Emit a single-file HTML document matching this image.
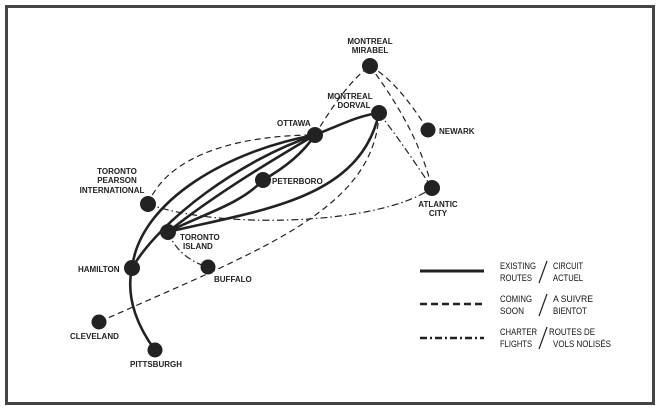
<!DOCTYPE html>
<html><head><meta charset="utf-8"><style>
html,body{margin:0;padding:0;background:#fff;}
svg{display:block}
text{font-family:"Liberation Sans",sans-serif;font-weight:bold;font-size:8px;fill:#222;}
.l{font-size:9.5px;font-weight:normal;fill:#111;}
</style></head><body>
<svg width="660" height="410" viewBox="0 0 660 410" xmlns="http://www.w3.org/2000/svg">
<rect x="0" y="0" width="660" height="410" fill="#fff"/>
<rect x="6.5" y="6.5" width="647" height="397" fill="none" stroke="#444" stroke-width="3"/>
<g fill="none" stroke="#222">
<g stroke-width="2.6">
<path d="M132,268 C140,200 230,150 315,135"/>
<path d="M132,268 C160,220 240,160 315,135"/>
<path d="M168,232 C220,190 290,150 315,135"/>
<path d="M168,232 C200,215 240,205 263,180"/>
<path d="M263,180 C290,165 305,150 315,135"/>
<path d="M315,135 C340,125 360,115 379,113"/>
<path d="M168,232 C260,210 360,200 379,113"/>
<path d="M132,268 C125,300 140,330 155,350"/>
</g>
<g stroke-width="1.2" stroke-dasharray="6,4">
<path d="M148,204 C170,150 250,135 315,135"/>
<path d="M315,135 C330,110 350,80 370,66"/>
<path d="M370,66 C395,80 415,110 428,130"/>
<path d="M370,66 C395,100 420,140 432,188"/>
<path d="M379,113 C375,210 260,250 99,322"/>
</g>
<g stroke-width="1.2" stroke-dasharray="7,3,1.5,3">
<path d="M148,204 C220,230 380,225 432,188"/>
<path d="M379,113 C400,140 420,170 432,188"/>
<path d="M168,232 C175,250 190,262 208,267"/>
</g>
</g>
<g fill="#222">
<circle cx="370" cy="66" r="8"/>
<circle cx="379" cy="113" r="8"/>
<circle cx="315" cy="135" r="8"/>
<circle cx="428" cy="130" r="7.5"/>
<circle cx="432" cy="188" r="8"/>
<circle cx="263" cy="180" r="8"/>
<circle cx="148" cy="204" r="8"/>
<circle cx="168" cy="232" r="8"/>
<circle cx="132" cy="268" r="8"/>
<circle cx="208" cy="267" r="7.5"/>
<circle cx="99" cy="322" r="7.5"/>
<circle cx="155" cy="350" r="7.5"/>
</g>
<text x="370" y="44" text-anchor="middle">MONTREAL</text>
<text x="370" y="53" text-anchor="middle">MIRABEL</text>
<text x="350" y="99" text-anchor="middle">MONTREAL</text>
<text x="354" y="108" text-anchor="middle">DORVAL</text>
<text x="277" y="126">OTTAWA</text>
<text x="439" y="134">NEWARK</text>
<text x="438" y="207" text-anchor="middle">ATLANTIC</text>
<text x="438" y="216" text-anchor="middle">CITY</text>
<text x="272" y="184">PETERBORO</text>
<text x="117" y="174" text-anchor="middle">TORONTO</text>
<text x="117" y="183" text-anchor="middle">PEARSON</text>
<text x="112" y="193" text-anchor="middle">INTERNATIONAL</text>
<text x="180" y="240">TORONTO</text>
<text x="183" y="249">ISLAND</text>
<text x="78" y="272">HAMILTON</text>
<text x="214" y="282">BUFFALO</text>
<text x="70" y="339">CLEVELAND</text>
<text x="130" y="367">PITTSBURGH</text>
<line x1="420" y1="271" x2="484" y2="271" stroke="#222" stroke-width="3"/>
<line x1="420" y1="304" x2="484" y2="304" stroke="#222" stroke-width="2.5" stroke-dasharray="7,4"/>
<line x1="420" y1="338" x2="484" y2="338" stroke="#222" stroke-width="2.5" stroke-dasharray="7,3,2,3"/>
<text class="l" x="500" y="269" textLength="36" lengthAdjust="spacingAndGlyphs">EXISTING</text>
<text class="l" x="500" y="281" textLength="32" lengthAdjust="spacingAndGlyphs">ROUTES</text>
<text class="l" x="553" y="269" textLength="30" lengthAdjust="spacingAndGlyphs">CIRCUIT</text>
<text class="l" x="553" y="281" textLength="30" lengthAdjust="spacingAndGlyphs">ACTUEL</text>
<text class="l" x="500" y="302" textLength="32" lengthAdjust="spacingAndGlyphs">COMING</text>
<text class="l" x="500" y="314" textLength="24" lengthAdjust="spacingAndGlyphs">SOON</text>
<text class="l" x="553" y="302" textLength="40" lengthAdjust="spacingAndGlyphs">A SUIVRE</text>
<text class="l" x="553" y="314" textLength="34" lengthAdjust="spacingAndGlyphs">BIENTOT</text>
<text class="l" x="500" y="335" textLength="37" lengthAdjust="spacingAndGlyphs">CHARTER</text>
<text class="l" x="500" y="347" textLength="32" lengthAdjust="spacingAndGlyphs">FLIGHTS</text>
<text class="l" x="549" y="335" textLength="46" lengthAdjust="spacingAndGlyphs">ROUTES DE</text>
<text class="l" x="553" y="347" textLength="58" lengthAdjust="spacingAndGlyphs">VOLS NOLISÉS</text>
<g stroke="#222" stroke-width="1.2">
<line x1="547" y1="261" x2="539" y2="283"/>
<line x1="547" y1="294" x2="539" y2="316"/>
<line x1="547" y1="327" x2="539" y2="349"/>
</g>
</svg>
</body></html>
